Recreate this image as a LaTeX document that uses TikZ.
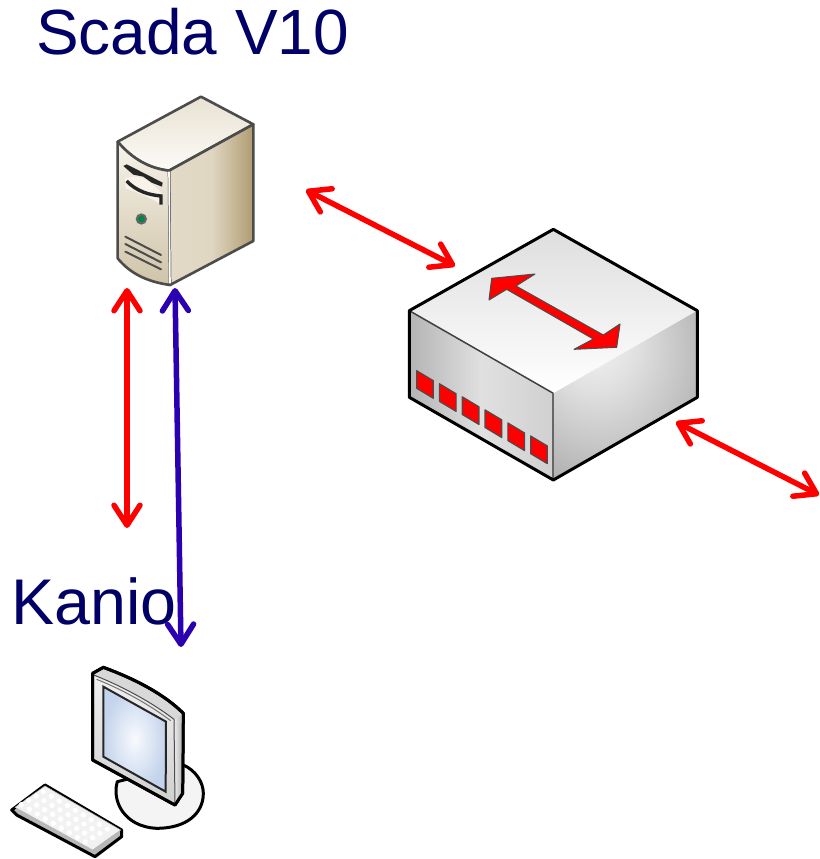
\documentclass[tikz,border=0pt]{standalone}
\usepackage{fontspec}
\setmainfont{Liberation Sans}
\usetikzlibrary{arrows.meta}
\definecolor{labelnavy}{HTML}{000066}
\definecolor{linkred}{HTML}{FF0000}
\definecolor{linkblue}{HTML}{2A00B0}
\definecolor{F0EBDF}{HTML}{E8E2D2}
\definecolor{FCFBF7}{HTML}{FCFBF7}
\definecolor{EFE9DB}{HTML}{E2DAC6}
\definecolor{B09C72}{HTML}{B09C72}
\definecolor{DCD1B8}{HTML}{E0D7C2}
\definecolor{F7F3EA}{HTML}{F7F3EA}
\definecolor{CFC4A8}{HTML}{CFC4A8}
\definecolor{DEDEDE}{HTML}{DEDEDE}
\definecolor{FFFFFF}{HTML}{FFFFFF}
\definecolor{AAAAAA}{HTML}{B4B4B4}
\definecolor{C8C8C8}{HTML}{D0D0D0}
\definecolor{E8E8E8}{HTML}{E0E0E0}
\definecolor{D8D8D8}{HTML}{D8D8D8}
\definecolor{F4F4F4}{HTML}{F4F4F4}
\definecolor{E6E6E6}{HTML}{E6E6E6}
\definecolor{B0B0B0}{HTML}{B0B0B0}
\definecolor{F8FAFE}{HTML}{F8FAFE}
\definecolor{C4D4EC}{HTML}{C4D4EC}
\definecolor{B8B8B8}{HTML}{B8B8B8}
\definecolor{F2F2F2}{HTML}{F2F2F2}
\definecolor{F0F0F0}{HTML}{F0F0F0}
\pgfdeclareradialshading{swface}{\pgfpoint{-12bp}{18bp}}{%
  color(0bp)=(white!96!black);color(14bp)=(white!88!black);color(38bp)=(white!70!black);color(60bp)=(white!62!black);color(100bp)=(white!60!black)}
\tikzset{
  label text/.style={anchor=base west,inner sep=0pt,text=labelnavy},
  scada text/.style={label text,font=\fontsize{63.9}{70}\selectfont},
  kanio text/.style={label text,font=\fontsize{64.6}{70}\selectfont},
  link/.style={line width=5.5pt,line cap=round,{Straight Barb[length=20pt,width=26pt,round]}-{Straight Barb[length=20pt,width=26pt,round]}},
  redlink/.style={link,draw=linkred},
  bluelink/.style={link,draw=linkblue},
  icon/.style={shift={#1},scale=0.33333},
  srv edge/.style={draw=black!70,line width=2.6pt,line join=round},
  srv slot/.style={draw=black!70,line width=2pt,line cap=round},
  sw edge/.style={draw=black,line width=3pt,line join=round},
  port/.style={fill=linkred,draw=black!70,line width=1.2pt,line join=round},
  pc edge/.style={draw=black,line width=3pt,line join=round},
  key/.style={fill=white,draw=none},
}
\begin{document}
\begin{tikzpicture}[x=1pt,y=-1pt]
\useasboundingbox (0,0) rectangle (819,859);
% server
\begin{scope}[icon={(90,80)}]
  \path[srv edge,top color=F0EBDF,bottom color=FCFBF7] (83,185) -- (333,50) -- (490,133) -- (237,272) .. controls (180,265) and (130,240) .. cycle;
  \path[srv edge,left color=EFE9DB,right color=B09C72,middle color=DCD1B8] (237,272) -- (490,133) -- (490,483) -- (240,615) -- cycle;
  \path[srv edge,top color=F7F3EA,bottom color=CFC4A8] (83,185) .. controls (130,240) and (180,265) .. (237,272) -- (240,615) .. controls (170,605) and (120,580) .. (83,535) -- cycle;
  \draw[white,line width=1.6pt] (237,275) -- (240,610);
  \fill[black!85] (100,258) -- (110,253) -- (218,308) -- (216,320) -- (185,308) -- (160,290) -- (130,284) -- cycle;
  \fill[F7F3EA] (105,295) .. controls (135,285) and (165,285) .. (215,340) -- (215,375) .. controls (170,345) and (135,335) .. (107,325) -- cycle;
  \draw[black!85,line width=3.4pt] (110,303) .. controls (140,335) and (180,345) .. (213,348) -- (213,374);
  \fill[black!60] (154,417) circle (17);
  \fill[teal!70!green!80!black] (154,417) circle (10);
  \foreach \ya/\yb in {470/525,492/547,515/568}{
    \draw[srv slot] (106,\ya) -- (213,\yb);
  }
\end{scope}
% switch
\begin{scope}[icon={(390,220)}]
  \path[top color=DEDEDE,bottom color=FFFFFF] (490,28) -- (922,272) -- (490,520) -- (58,272) -- cycle;
  \path[left color=AAAAAA,right color=C8C8C8,middle color=E8E8E8] (58,272) -- (490,520) -- (490,780) -- (58,532) -- cycle;
  \path[shading=swface] (490,520) -- (922,272) -- (922,532) -- (490,780) -- cycle;
  \draw[black!75,line width=1.5pt] (58,272) -- (490,520);
  \draw[black!60,line width=1.8pt] (490,520) -- (490,780);
  \draw[sw edge] (490,28) -- (922,272) -- (922,532) -- (490,780) -- (58,532) -- (58,272) -- cycle;
  \foreach \i in {0,...,5}{
    \path[port,shift={(68.4*\i,39.2*\i)}] (80,452) -- (130,482) -- (130,535) -- (80,505) -- cycle;
  }
  \path[fill=linkred,draw=black!70,line width=1pt,line join=round] (305,175) -- (435,162) -- (378,198) -- (640,345) -- (690,312) -- (680,382) -- (552,388) -- (610,357) -- (350,208) -- (297,240) -- cycle;
\end{scope}
% workstation
\begin{scope}[icon={(0,650)}]
  \path[pc edge,fill=F4F4F4] (352,395) .. controls (335,450) and (370,530) .. (470,535) .. controls (560,535) and (610,490) .. (610,430) .. controls (610,395) and (585,360) .. (550,345) -- cycle;
  \path[pc edge,fill=D8D8D8] (278,70) -- (310,52) .. controls (400,85) and (490,130) .. (550,190) -- (548,430) -- (525,465) -- (278,330) -- cycle;
  \path[left color=E6E6E6,right color=B0B0B0] (525,208) -- (548,192) -- (546,430) -- (525,462) -- cycle;
  \path[top color=F0F0F0,bottom color=C8C8C8,draw=black!70,line width=1pt] (281,75) .. controls (370,110) and (460,160) .. (522,208) -- (525,462) -- (281,328) -- cycle;
  \path[inner color=F8FAFE,outer color=C4D4EC,draw=black!85,line width=2pt] (310,110) -- (498,215) -- (497,425) -- (310,320) -- cycle;
  \draw[black!55,line width=1pt] (290,88) .. controls (370,120) and (450,165) .. (512,212);
  \draw[pc edge] (278,70) -- (310,52) .. controls (400,85) and (490,130) .. (550,190) -- (548,430) -- (525,465) -- (278,330) -- cycle;
  \path[pc edge,fill=B8B8B8] (135,405) -- (365,540) -- (365,560) -- (285,620) -- (50,495) -- (35,480) -- cycle;
  \path[fill=F2F2F2,draw=black!30,line width=0.5pt] (135,408) -- (362,540) -- (278,600) -- (45,472) -- cycle;
  \foreach \a in {0,...,3}{\foreach \b in {0,...,8}{
    \path[key] ({130+\b*24-\a*22},{425+\b*14+\a*13}) circle (8);
  }}
\end{scope}
% links
\coordinate (a1) at (306,190);
\coordinate (a2) at (455,266);
\coordinate (b1) at (127,288);
\coordinate (b2) at (127,528);
\coordinate (c1) at (175,288);
\coordinate (c2) at (181,647);
\coordinate (d1) at (676,422);
\coordinate (d2) at (819,495);
\node[scada text] (scada) at (36,55) {Scada V10};
\node[kanio text] (kanio) at (11,624) {Kanio};
\draw[redlink] (a1) -- (a2);
\draw[redlink] (b1) -- (b2);
\draw[bluelink] (c1) -- (c2);
\draw[redlink] (d1) -- (d2);
\end{tikzpicture}
\end{document}
